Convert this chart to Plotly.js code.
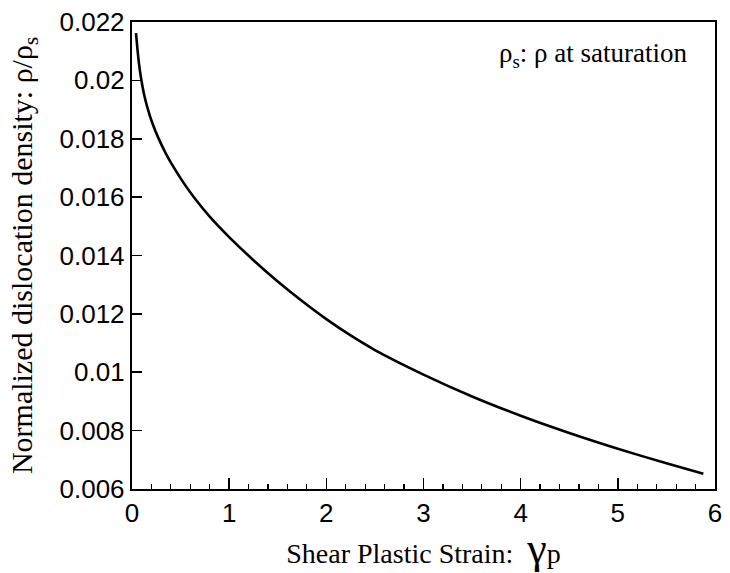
<!DOCTYPE html>
<html>
<head>
<meta charset="utf-8">
<script src="https://cdn.plot.ly/plotly-3.0.1.min.js"></script>
<style>html,body{margin:0;padding:0;background:#fff;}#chart{width:730px;height:573px;}</style>
</head>
<body>
<div id="chart"></div>
<script>
// Shear plastic strain (gamma_p)
const strain = [0.041, 0.055, 0.071, 0.093, 0.121, 0.160, 0.209, 0.271, 0.346, 0.433, 0.533, 0.643, 0.8, 1.0, 1.25, 1.5, 1.75, 2.0, 2.25, 2.5, 3.0, 3.5, 4.0, 4.5, 5.0, 5.5, 5.88];
// Normalized dislocation density rho/rho_s
const density = [0.02162, 0.02111, 0.02060, 0.02008, 0.01957, 0.01905, 0.01854, 0.01803, 0.01751, 0.01700, 0.01648, 0.01597, 0.01533, 0.01463, 0.01384, 0.01311, 0.01244, 0.01182, 0.01126, 0.01076, 0.00992, 0.00917, 0.00851, 0.00792, 0.00738, 0.00688, 0.00652];

const xTitle = 'Shear Plastic Strain:  <span style="font-size:44px">γ</span>p';
const yTitle = 'Normalized dislocation density: ρ/ρ<sub>s</sub>';
const noteText = 'ρ<sub>s</sub>: ρ at saturation';

const trace = {
  x: strain, y: density, type: 'scatter', mode: 'lines',
  line: {color: '#000', width: 2.6, shape: 'spline', smoothing: 0.8},
  hoverinfo: 'skip', showlegend: false
};

const layout = {
  width: 730, height: 573,
  margin: {l: 132, r: 15, t: 22, b: 84},
  paper_bgcolor: '#fff', plot_bgcolor: '#fff',
  showlegend: false,
  xaxis: {
    range: [0, 6], dtick: 1, tick0: 0,
    showgrid: false, zeroline: false,
    showline: true, linecolor: '#000', linewidth: 2.2, mirror: true,
    ticks: 'inside', ticklen: 11, tickwidth: 1.6, tickcolor: '#000',
    minor: {dtick: 0.2, ticks: 'inside', ticklen: 5, tickwidth: 1.2, tickcolor: '#000', showgrid: false},
    tickfont: {family: 'Liberation Sans, Arial, sans-serif', size: 26, color: '#000'},
    title: {text: xTitle, font: {family: 'Liberation Serif, Times New Roman, serif', size: 28, color: '#000'}, standoff: 0}
  },
  yaxis: {
    range: [0.006, 0.022], dtick: 0.002, tick0: 0.006,
    showgrid: false, zeroline: false,
    showline: true, linecolor: '#000', linewidth: 2.2, mirror: true,
    ticks: 'inside', ticklen: 10, tickwidth: 1.6, tickcolor: '#000',
    tickfont: {family: 'Liberation Sans, Arial, sans-serif', size: 26, color: '#000'},
    title: {text: yTitle, font: {family: 'Liberation Serif, Times New Roman, serif', size: 30, color: '#000'}, standoff: 18}
  },
  annotations: [{
    text: noteText, xref: 'paper', yref: 'paper', x: 0.957, y: 0.93,
    xanchor: 'right', yanchor: 'middle', showarrow: false,
    font: {family: 'Liberation Serif, Times New Roman, serif', size: 27, color: '#000'}
  }]
};

Plotly.newPlot('chart', [trace], layout, {staticPlot: true, displayModeBar: false});
</script>
</body>
</html>
